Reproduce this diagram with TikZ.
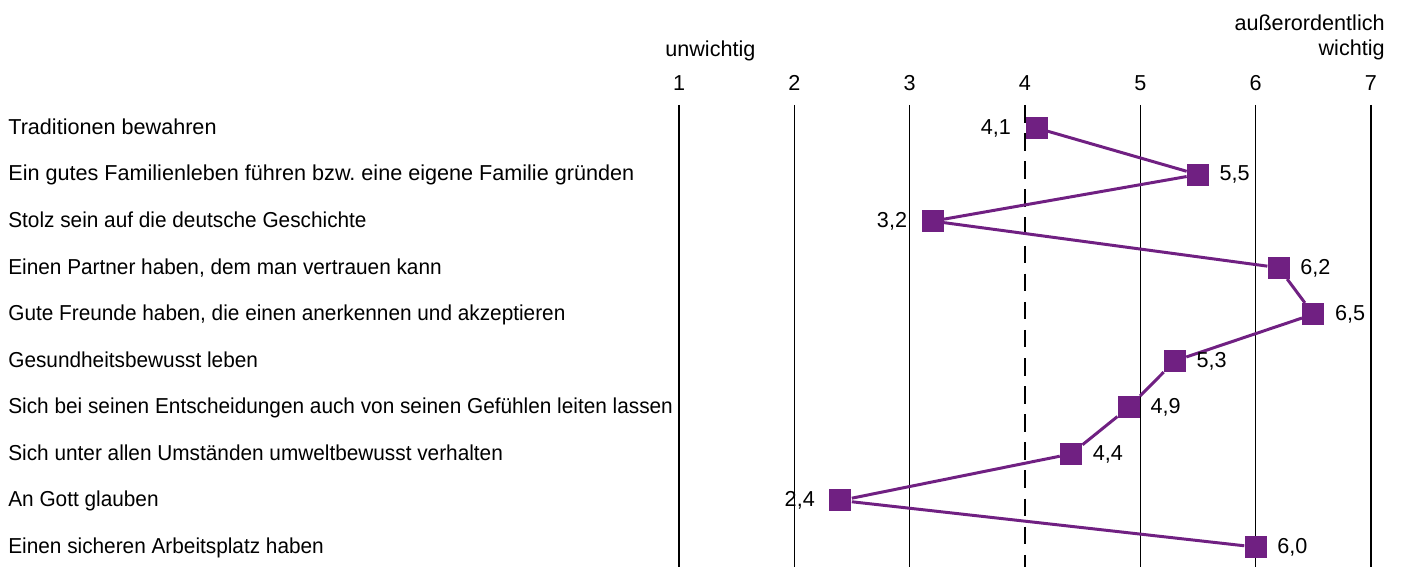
\documentclass[tikz,border=0pt]{standalone}
\usepackage{fontspec}
\setmainfont{Liberation Sans}
\newfontfamily\schmal[FakeStretch=0.962]{Liberation Sans}
\usetikzlibrary{positioning}
\definecolor{lila}{RGB}{112,32,130}
\frenchspacing

\begin{document}
\begin{tikzpicture}[x=0.02cm,y=-0.02cm,font=\fontsize{12.3}{14}\selectfont,
  every node/.style={inner sep=0pt,text height=0.72em,text depth=0em},
  aussage/.style={anchor=west,font=\fontsize{12.3}{14}\selectfont\schmal},
  achse/.style={line width=0.8pt},
  wert/.style={rectangle,fill=lila,inner sep=0pt,minimum size=0.44cm,text height=,text depth=},
  zahl/.style={inner sep=0pt},
  linie/.style={lila,line width=1.7pt}]
\def\s{115.33}
\def\r{46.56}
\useasboundingbox (0,0) rectangle (1402,567);
% Skala
\node (z1) at (679,84) {1};
\node (z2) at ({679+1*\s},84) {2};
\node (z3) at ({679+2*\s},84) {3};
\node (z4) at ({679+3*\s},84) {4};
\node (z5) at ({679+4*\s},84) {5};
\node (z6) at ({679+5*\s},84) {6};
\node (z7) at ({679+6*\s},84) {7};
\node[anchor=west] (unw) at (665,50) {unwichtig};
\node[anchor=east] (auss) at (1385,24) {außerordentlich};
\node[anchor=east] (wicht) at (1385,49) {wichtig};
\foreach \v in {1,2,3,5,6,7} \draw[achse] ({679+(\v-1)*\s},105) -- ++(0,462);
\draw[achse,dash pattern=on 10 off 6] ({679+3*\s},105) -- ++(0,462);
% Aussagen
\node[anchor=west] (t1) at (8,{128+0*\r}) {Traditionen bewahren};
\node[anchor=west] (t2) at (8,{128+1*\r}) {Ein gutes Familienleben führen bzw. eine eigene Familie gründen};
\node[aussage] (t3) at (8,{128+2*\r}) {Stolz sein auf die deutsche Geschichte};
\node[aussage] (t4) at (8,{128+3*\r}) {Einen Partner haben, dem man vertrauen kann};
\node[aussage] (t5) at (8,{128+4*\r}) {Gute Freunde haben, die einen anerkennen und akzeptieren};
\node[aussage] (t6) at (8,{128+5*\r}) {Gesundheitsbewusst leben};
\node[aussage] (t7) at (8,{128+6*\r}) {Sich bei seinen Entscheidungen auch von seinen Gefühlen leiten lassen};
\node[aussage] (t8) at (8,{128+7*\r}) {Sich unter allen Umständen umweltbewusst verhalten};
\node[aussage] (t9) at (8,{128+8*\r}) {An Gott glauben};
\node[aussage] (t10) at (8,{128+9*\r}) {Einen sicheren Arbeitsplatz haben};
% Mittelwerte
\node[wert] (m1) at ({679+(4.1-1)*\s},{128+0*\r}) {};
\node[wert] (m2) at ({679+(5.5-1)*\s},{128+1*\r}) {};
\node[wert] (m3) at ({679+(3.2-1)*\s},{128+2*\r}) {};
\node[wert] (m4) at ({679+(6.2-1)*\s},{128+3*\r}) {};
\node[wert] (m5) at ({679+(6.5-1)*\s},{128+4*\r}) {};
\node[wert] (m6) at ({679+(5.3-1)*\s},{128+5*\r}) {};
\node[wert] (m7) at ({679+(4.9-1)*\s},{128+6*\r}) {};
\node[wert] (m8) at ({679+(4.4-1)*\s},{128+7*\r}) {};
\node[wert] (m9) at ({679+(2.4-1)*\s},{128+8*\r}) {};
\node[wert] (m10) at ({679+(6.0-1)*\s},{128+9*\r}) {};
\draw[linie] (m1) -- (m2) -- (m3) -- (m4) -- (m5) -- (m6) -- (m7) -- (m8) -- (m9) -- (m10);
\node[zahl,left=0.28cm of m1] {4,1};
\node[zahl,right=0.2cm of m2] {5,5};
\node[zahl,left=0.28cm of m3] {3,2};
\node[zahl,right=0.2cm of m4] {6,2};
\node[zahl,right=0.2cm of m5] {6,5};
\node[zahl,right=0.2cm of m6] {5,3};
\node[zahl,right=0.2cm of m7] {4,9};
\node[zahl,right=0.2cm of m8] {4,4};
\node[zahl,left=0.28cm of m9] {2,4};
\node[zahl,right=0.2cm of m10] {6,0};
\end{tikzpicture}
\end{document}
